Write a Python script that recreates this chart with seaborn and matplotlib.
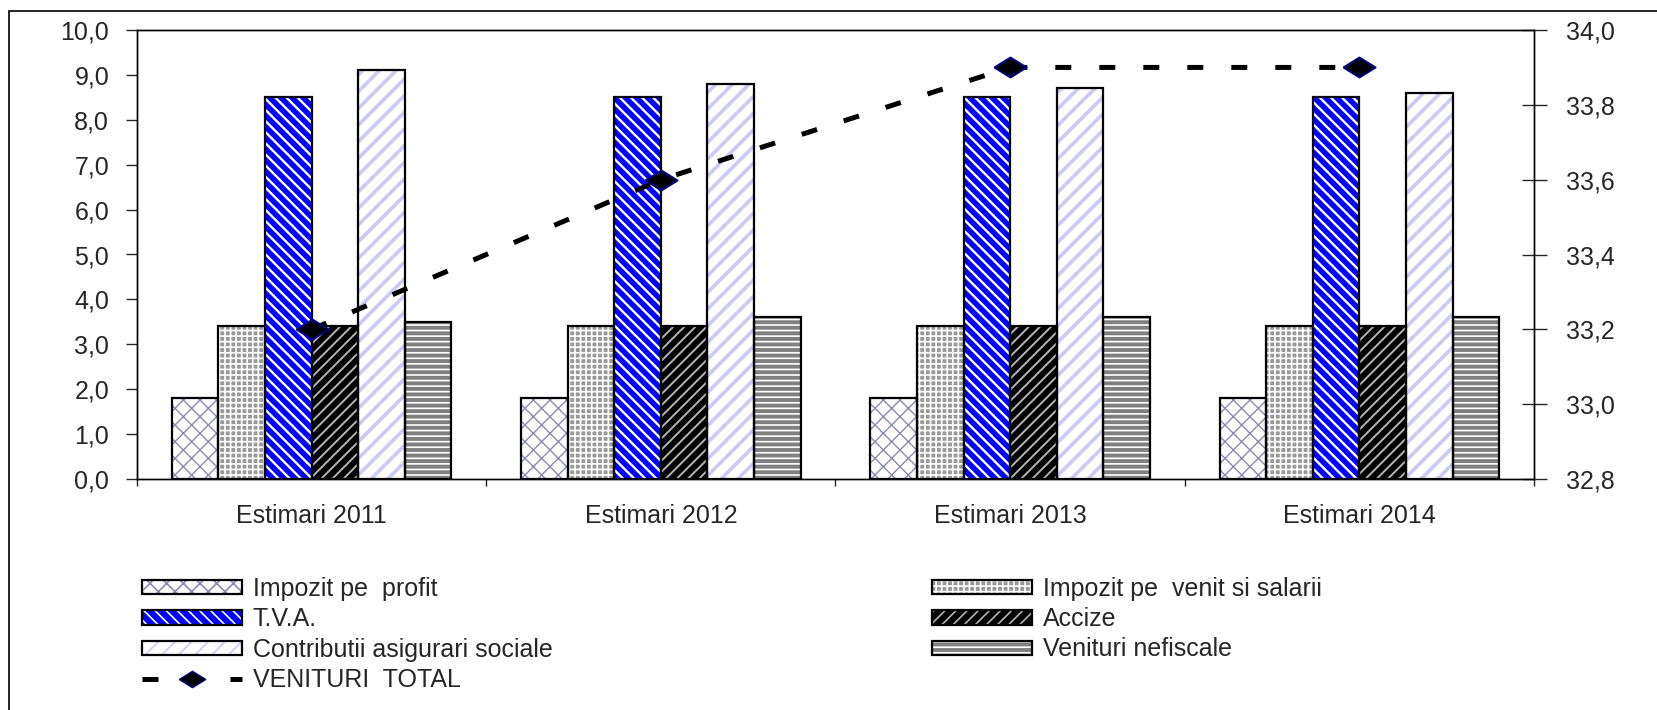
import numpy as np
import pandas as pd
import seaborn as sns
import matplotlib.pyplot as plt
from matplotlib.patches import Rectangle, Patch
from matplotlib.lines import Line2D
from matplotlib.ticker import FuncFormatter, FixedLocator

years = ['Estimari 2011', 'Estimari 2012', 'Estimari 2013', 'Estimari 2014']
series = ['Impozit pe  profit', 'Impozit pe  venit si salarii', 'T.V.A.',
          'Accize', 'Contributii asigurari sociale', 'Venituri nefiscale']
profit = [1.8, 1.8, 1.8, 1.8]
venit = [3.4, 3.4, 3.4, 3.4]
tva = [8.5, 8.5, 8.5, 8.5]
accize = [3.4, 3.4, 3.4, 3.4]
contributii = [9.1, 8.8, 8.7, 8.6]
nefiscale = [3.5, 3.6, 3.6, 3.6]
total_label = 'VENITURI  TOTAL'
total = [33.2, 33.6, 33.9, 33.9]

values = [profit, venit, tva, accize, contributii, nefiscale]
rows = []
for name, vals in zip(series, values):
    for yr, v in zip(years, vals):
        rows.append({'an': yr, 'serie': name, 'val': v})
df = pd.DataFrame(rows)

# face colour, hatch colour, hatch pattern, hatch width
styles = [
    ('white', '#8a8ab4', 'xx', 1.0),
    ('#999999', 'white', '+++', 1.2),
    ('#0000ff', 'white', '\\\\\\', 1.7),
    ('black', '#b4b4b4', '///', 1.4),
    ('white', '#cacaf6', '//', 2.6),
    ('#808080', 'white', '---', 1.2),
]

FS = 18
sns.set_style('white')
plt.rcParams['font.family'] = ['Liberation Sans', 'DejaVu Sans']
plt.rcParams['hatch.linewidth'] = 1.2

W, H = 1658, 710
fig = plt.figure(figsize=(W / 100, H / 100), dpi=100)
ax = fig.add_axes([137 / W, 1 - 479 / H, (1534 - 137) / W, (479 - 30) / H])

sns.barplot(data=df, x='an', y='val', hue='serie', hue_order=series,
            order=years, ax=ax, width=0.8, legend=False, errorbar=None)

for cont, (fc, hc, hatch, hlw) in zip(ax.containers, styles):
    for p in cont:
        p.set_facecolor(fc)
        p.set_edgecolor(hc)
        p.set_hatch(hatch)
        p.set_linewidth(0)
        if hasattr(p, 'set_hatch_linewidth'):
            p.set_hatch_linewidth(hlw)
        ax.add_patch(Rectangle(p.get_xy(), p.get_width(), p.get_height(),
                               fill=False, edgecolor='black', lw=1.6, zorder=3))

ax.set_xlim(-0.5, len(years) - 0.5)
ax.set_ylim(0, 10)
ax.set_yticks(np.arange(0, 10.01, 1))
ax.yaxis.set_major_formatter(FuncFormatter(lambda v, p: f'{v:.1f}'.replace('.', ',')))
ax.set_xlabel('')
ax.set_ylabel('')
ax.xaxis.set_minor_locator(FixedLocator(np.arange(-0.5, len(years), 1)))
ax.tick_params(axis='x', which='major', length=0, pad=18, labelsize=FS)
ax.tick_params(axis='x', which='minor', length=5, width=1, direction='out', bottom=True)
ax.tick_params(axis='y', length=8, width=1, direction='out', left=True, pad=12, labelsize=FS)
for s in ax.spines.values():
    s.set_visible(True)
    s.set_color('black')
    s.set_linewidth(1)

diamond = [(-1, 0), (0, 0.62), (1, 0), (0, -0.62), (-1, 0)]
ax2 = ax.twinx()
ax2.plot(np.arange(len(years)), total, color='black', lw=3.6,
         dashes=(3.2, 5.6), dash_capstyle='butt',
         marker=diamond, markersize=23, markerfacecolor='black',
         markeredgecolor='#000080', markeredgewidth=1.5)
ax2.set_ylim(32.8, 34.0)
ax2.set_yticks(np.arange(32.8, 34.01, 0.2))
ax2.yaxis.set_major_formatter(FuncFormatter(lambda v, p: f'{v:.1f}'.replace('.', ',')))
ax2.tick_params(axis='y', length=18, width=1, direction='inout', right=True, pad=14, labelsize=FS)
for s in ax2.spines.values():
    s.set_linewidth(1)
    s.set_color('black')

handles = []
for fc, hc, hatch, hlw in styles:
    handles.append((Patch(facecolor=fc, edgecolor=hc, hatch=hatch, lw=0),
                    Patch(facecolor='none', edgecolor='black', lw=1.6)))
line_handle = Line2D([], [], color='black', lw=3.6, dashes=(3.2, 5.6),
                     dash_capstyle='butt', marker=diamond, markersize=19,
                     markerfacecolor='black', markeredgecolor='#000080')

leg_kw = dict(frameon=False, fontsize=FS, handlelength=4.0, handleheight=0.5,
              handletextpad=0.44, labelspacing=0.25, borderpad=0, borderaxespad=0,
              loc='upper left')
left_idx = [0, 2, 4]
right_idx = [1, 3, 5]
fig.legend([handles[i] for i in left_idx] + [line_handle],
           [series[i] for i in left_idx] + [total_label],
           bbox_to_anchor=(142 / W, 1 - 577 / H), **leg_kw)
fig.legend([handles[i] for i in right_idx],
           [series[i] for i in right_idx],
           bbox_to_anchor=(932 / W, 1 - 577 / H), **leg_kw)

fig.add_artist(Rectangle((9 / W, -0.1), 1.2, 1 - 11 / H + 0.1,
                         transform=fig.transFigure, fill=False,
                         edgecolor='black', lw=1.2))

fig.savefig('out.png', dpi=100)
